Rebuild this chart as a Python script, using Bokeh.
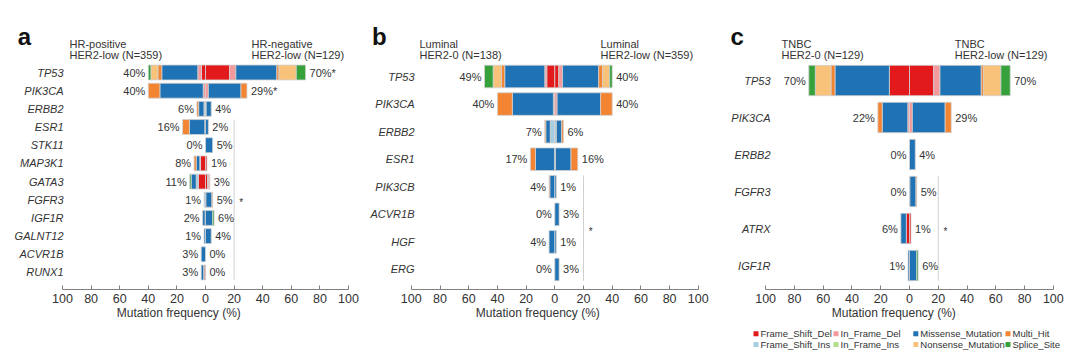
import numpy as np
from bokeh.plotting import figure
from bokeh.models import ColumnDataSource, Range1d, LinearAxis, FixedTicker
from bokeh.layouts import row, column
from bokeh.core.properties import value
from bokeh.embed import file_html
from bokeh.resources import INLINE

# ---------------- data ----------------
CATS = ["Frame_Shift_Del", "Frame_Shift_Ins", "In_Frame_Del", "In_Frame_Ins",
        "Missense_Mutation", "Multi_Hit", "Nonsense_Mutation", "Splice_Site"]
COLORS = {"Frame_Shift_Del": "#E31A1C", "Frame_Shift_Ins": "#A6CEE3",
          "In_Frame_Del": "#F49A9C", "In_Frame_Ins": "#B2DF8A",
          "Missense_Mutation": "#1F72B4", "Multi_Hit": "#F28432",
          "Nonsense_Mutation": "#F8C27A", "Splice_Site": "#36A03A"}
LEGEND_ROW1 = ["Frame_Shift_Del", "In_Frame_Del", "Missense_Mutation", "Multi_Hit"]
LEGEND_ROW2 = ["Frame_Shift_Ins", "In_Frame_Ins", "Nonsense_Mutation", "Splice_Site"]

# Panel a: HR-positive HER2-low (left) vs HR-negative HER2-low (right)
a_genes = ["TP53", "PIK3CA", "ERBB2", "ESR1", "STK11", "MAP3K1", "GATA3", "FGFR3",
           "IGF1R", "GALNT12", "ACVR1B", "RUNX1"]
a_left = {
    "Frame_Shift_Del":   [2.8, 0, 0, 0, 0, 3.5, 5.0, 0, 0, 0, 0, 1.0],
    "Frame_Shift_Ins":   [0, 0, 1.1, 0.5, 0, 0.5, 1.5, 1.0, 0.3, 0, 0, 0.3],
    "In_Frame_Del":      [2.6, 1.6, 0, 0, 0, 0, 0, 0, 0, 0, 0, 0],
    "In_Frame_Ins":      [0, 0, 0, 0, 0, 0, 0, 0, 0, 0, 0, 0],
    "Missense_Mutation": [25.2, 30.3, 3.7, 10.8, 0, 2.5, 3.5, 0, 1.7, 1.0, 3.0, 1.7],
    "Multi_Hit":         [2.7, 8.1, 1.2, 4.7, 0, 1.5, 0, 0, 0, 0, 0, 0],
    "Nonsense_Mutation": [4.9, 0, 0, 0, 0, 0, 0, 0, 0, 0, 0, 0],
    "Splice_Site":       [1.8, 0, 0, 0, 0, 0, 1.0, 0, 0, 0, 0, 0],
}
a_right = {
    "Frame_Shift_Del":   [16.8, 0, 0, 0, 0, 1.0, 1.5, 0, 0, 0, 0, 0],
    "Frame_Shift_Ins":   [0, 0, 0.5, 0, 0, 0, 0.5, 0.3, 0, 0, 0, 0],
    "In_Frame_Del":      [4.4, 2.0, 0, 0, 0, 0, 1.0, 0, 0, 0, 0, 0],
    "In_Frame_Ins":      [0, 0, 0, 0, 0, 0, 0, 0, 0, 0, 0, 0],
    "Missense_Mutation": [28.7, 22.8, 3.5, 2.0, 5.0, 0, 0, 4.2, 5.0, 4.0, 0, 0],
    "Multi_Hit":         [1.5, 4.2, 0, 0, 0, 0, 0, 0.5, 0, 0, 0, 0],
    "Nonsense_Mutation": [12.1, 0, 0, 0, 0, 0, 0, 0, 0, 0, 0, 0],
    "Splice_Site":       [6.5, 0, 0, 0, 0, 0, 0, 0, 1.0, 0, 0, 0],
}
a_left_lbl = ["40%", "40%", "6%", "16%", "0%", "8%", "11%", "1%", "2%", "1%", "3%", "3%"]
a_right_lbl = ["70%*", "29%*", "4%", "2%", "5%", "1%", "3%", "5%", "6%", "4%", "0%", "0%"]
a_head = ["HR-positive", "HER2-low (N=359)", "HR-negative", "HER2-low (N=129)"]

# Panel b: Luminal HER2-0 (left) vs Luminal HER2-low (right)
b_genes = ["TP53", "PIK3CA", "ERBB2", "ESR1", "PIK3CB", "ACVR1B", "HGF", "ERG"]
b_left = {
    "Frame_Shift_Del":   [5.6, 0, 0, 0, 0, 0, 0, 0],
    "Frame_Shift_Ins":   [0, 0, 3.2, 0, 0, 0, 0, 0],
    "In_Frame_Del":      [1.4, 1.0, 0, 0, 0, 0, 0, 0],
    "In_Frame_Ins":      [0, 0, 0, 0, 0, 0, 0, 0],
    "Missense_Mutation": [27.9, 28.6, 3.1, 13.5, 3.5, 0, 4.0, 0],
    "Multi_Hit":         [2.3, 10.4, 0.7, 3.5, 0.5, 0, 0, 0],
    "Nonsense_Mutation": [5.8, 0, 0, 0, 0, 0, 0, 0],
    "Splice_Site":       [6.0, 0, 0, 0, 0, 0, 0, 0],
}
b_right = {
    "Frame_Shift_Del":   [2.8, 0, 0, 0, 0, 0, 0, 0],
    "Frame_Shift_Ins":   [0, 0, 1.1, 0.5, 0, 0, 0, 0],
    "In_Frame_Del":      [2.6, 1.6, 0, 0, 0, 0, 0, 0],
    "In_Frame_Ins":      [0, 0, 0, 0, 0, 0, 0, 0],
    "Missense_Mutation": [25.2, 30.3, 3.7, 10.8, 1.0, 3.0, 1.0, 3.0],
    "Multi_Hit":         [2.7, 8.1, 1.2, 4.7, 0, 0, 0, 0],
    "Nonsense_Mutation": [4.9, 0, 0, 0, 0, 0, 0, 0],
    "Splice_Site":       [1.8, 0, 0, 0, 0, 0, 0, 0],
}
b_left_lbl = ["49%", "40%", "7%", "17%", "4%", "0%", "4%", "0%"]
b_right_lbl = ["40%", "40%", "6%", "16%", "1%", "3%", "1%", "3%"]
b_head = ["Luminal", "HER2-0 (N=138)", "Luminal", "HER2-low (N=359)"]

# Panel c: TNBC HER2-0 (left) vs TNBC HER2-low (right)
c_genes = ["TP53", "PIK3CA", "ERBB2", "FGFR3", "ATRX", "IGF1R"]
c_left = {
    "Frame_Shift_Del":   [14.0, 0, 0, 0, 2.2, 0],
    "Frame_Shift_Ins":   [0, 0, 0, 0, 0, 0],
    "In_Frame_Del":      [0, 1.2, 0, 0, 0, 0],
    "In_Frame_Ins":      [0, 0, 0, 0, 0, 0],
    "Missense_Mutation": [37.8, 17.8, 0, 0, 3.8, 1.0],
    "Multi_Hit":         [2.8, 3.0, 0, 0, 0, 0],
    "Nonsense_Mutation": [10.9, 0, 0, 0, 0, 0],
    "Splice_Site":       [4.5, 0, 0, 0, 0, 0],
}
c_right = {
    "Frame_Shift_Del":   [16.8, 0, 0, 0, 1.0, 0],
    "Frame_Shift_Ins":   [0, 0, 0, 0.3, 0, 0],
    "In_Frame_Del":      [4.4, 2.0, 0, 0, 0, 0],
    "In_Frame_Ins":      [0, 0, 0, 0, 0, 0],
    "Missense_Mutation": [28.7, 22.8, 4.0, 4.2, 0, 5.0],
    "Multi_Hit":         [1.5, 4.2, 0, 0.5, 0, 0],
    "Nonsense_Mutation": [12.1, 0, 0, 0, 0, 0],
    "Splice_Site":       [6.5, 0, 0, 0, 0, 1.0],
}
c_left_lbl = ["70%", "22%", "0%", "0%", "6%", "1%"]
c_right_lbl = ["70%", "29%", "4%", "5%", "1%", "6%"]
c_head = ["TNBC", "HER2-0 (N=129)", "TNBC", "HER2-low (N=129)"]

TICKS = [-100, -80, -60, -40, -20, 0, 20, 40, 60, 80, 100]

# ---------------- style / layout ----------------
FONT = value("Liberation Sans")
TXT = "#333333"
FRAME_H = 289
TOP = 0  # page y of figure top

def segments(data, n, sign):
    cum = np.zeros(n)
    out = {"y": [], "left": [], "right": [], "color": []}
    for cat in CATS:
        vals = np.asarray(data[cat], dtype=float)
        start = cum.copy()
        cum = cum + vals
        for i in range(n):
            if vals[i] > 0:
                a, b = sign * start[i], sign * cum[i]
                out["y"].append(i)
                out["left"].append(min(a, b))
                out["right"].append(max(a, b))
                out["color"].append(COLORS[cat])
    return out, cum

def make_panel(letter, genes, left, right, llbl, rlbl, head, cfg, height, bottom):
    n = len(genes)
    fl, w, z, s, r0, st = cfg["left"], cfg["width"], cfg["zero"], cfg["scale"], cfg["row0"], cfg["step"]
    px = lambda X: (X - z) / s
    py = lambda Y: (Y - r0) / st
    p = figure(width=w, height=height, output_backend="svg", toolbar_location=None,
               x_axis_location=None, y_axis_location=None,
               x_range=Range1d(px(fl), px(fl + w)),
               y_range=Range1d(py(TOP + FRAME_H), py(TOP)),
               min_border=0, min_border_bottom=bottom)
    p.outline_line_color = None
    p.xgrid.visible = False
    p.ygrid.visible = False
    p.background_fill_color = "white"
    p.border_fill_color = "white"

    ax = LinearAxis(bounds=(-100, 100), ticker=FixedTicker(ticks=TICKS))
    ax.major_label_overrides = {t: str(abs(t)) for t in TICKS}
    ax.axis_label = "Mutation frequency  (%)"
    ax.axis_label_text_font = "Liberation Sans"
    ax.axis_label_text_font_style = "normal"
    ax.axis_label_text_font_size = "12px"
    ax.axis_label_text_color = TXT
    ax.axis_label_standoff = 0
    ax.major_label_text_font = "Liberation Sans"
    ax.major_label_text_font_size = "12.5px"
    ax.major_label_text_color = TXT
    ax.major_label_standoff = 4
    ax.axis_line_color = "#808080"
    ax.major_tick_line_color = "#808080"
    ax.major_tick_in = 4
    ax.major_tick_out = 0
    ax.minor_tick_line_color = None
    p.add_layout(ax, "below")

    h = 0.82
    # reference line at 20 %
    y0 = cfg["line_row"] - h / 2
    y1 = n - 1 + h / 2
    p.segment(x0=[20], y0=[y0], x1=[20], y1=[y1], line_color="#cfcfcf", line_width=1)
    p.text(x=[25], y=[(y0 + y1) / 2], text=["*"], text_align="center", text_baseline="middle",
           text_font=FONT, text_font_size="10px", text_color=TXT, y_offset=3)

    lseg, ltot = segments(left, n, -1)
    rseg, rtot = segments(right, n, 1)
    for seg in (lseg, rseg):
        p.hbar(y="y", left="left", right="right", height=h, fill_color="color",
               line_color="#d2d2d2", line_width=0.8, source=ColumnDataSource(seg))

    idx = list(range(n))
    p.text(x=list(-ltot), y=idx, text=llbl, text_align="right", text_baseline="middle",
           x_offset=-3, text_font=FONT, text_font_size="11px", text_color=TXT)
    p.text(x=list(rtot), y=idx, text=rlbl, text_align="left", text_baseline="middle",
           x_offset=4, text_font=FONT, text_font_size="11px", text_color=TXT)
    p.text(x=[px(cfg["gene"])] * n, y=idx, text=genes, text_align="right", text_baseline="middle",
           text_font=FONT, text_font_style="italic", text_font_size="11px", text_color=TXT)
    # headers
    hx = [px(cfg["hl"]), px(cfg["hl"]), px(cfg["hr"]), px(cfg["hr"])]
    hy = [py(43.7), py(54.0), py(43.7), py(54.0)]
    p.text(x=hx, y=hy, text=head, text_align="left", text_baseline="middle",
           text_font=FONT, text_font_size="11px", text_color=TXT)
    p.text(x=[px(cfg["letter"])], y=[py(35.5)], text=[letter], text_align="left",
           text_baseline="alphabetic", text_font=FONT, text_font_style="bold",
           text_font_size="24px", text_color="#111111")
    return p

cfg_a = dict(left=0, width=360, zero=205.0, scale=1.43, row0=72.0, step=18.18,
             gene=63, hl=69, hr=251, letter=17.3, line_row=3)
cfg_b = dict(left=360, width=358, zero=554.3, scale=1.435, row0=76.0, step=27.57,
             gene=414, hl=419, hr=600, letter=371.5, line_row=4)
cfg_c = dict(left=718, width=354, zero=909.0, scale=1.4385, row0=80.0, step=37.0,
             gene=770, hl=781, hr=954.3, letter=730, line_row=3)

pa = make_panel("a", a_genes, a_left, a_right, a_left_lbl, a_right_lbl, a_head, cfg_a, 348, 59)
pb = make_panel("b", b_genes, b_left, b_right, b_left_lbl, b_right_lbl, b_head, cfg_b, 348, 59)
pc = make_panel("c", c_genes, c_left, c_right, c_left_lbl, c_right_lbl, c_head, cfg_c, 325, 36)

# legend strip under panel c
leg = figure(width=354, height=28, output_backend="svg", toolbar_location=None,
             x_axis_location=None, y_axis_location=None,
             x_range=Range1d(718, 1072), y_range=Range1d(353, 325), min_border=0)
leg.outline_line_color = None
leg.xgrid.visible = False
leg.ygrid.visible = False
col_x = [755.5, 835.5, 915.3, 1007.5]
row_y = [333.3, 344.0]
lx, ly, lc, lt = [], [], [], []
for r, items in enumerate([LEGEND_ROW1, LEGEND_ROW2]):
    for cx, cat in zip(col_x, items):
        lx.append(cx); ly.append(row_y[r]); lc.append(COLORS[cat]); lt.append(cat)
leg.scatter(x=lx, y=ly, marker="square", size=5, fill_color=lc, line_color=None)
leg.text(x=[v + 4.5 for v in lx], y=ly, text=lt, text_align="left", text_baseline="middle",
         text_font=FONT, text_font_size="9.5px", text_color=TXT)

layout = row(pa, pb, column(pc, leg))
open("out.html", "w").write(file_html(layout, INLINE, title="Mutation frequency"))
